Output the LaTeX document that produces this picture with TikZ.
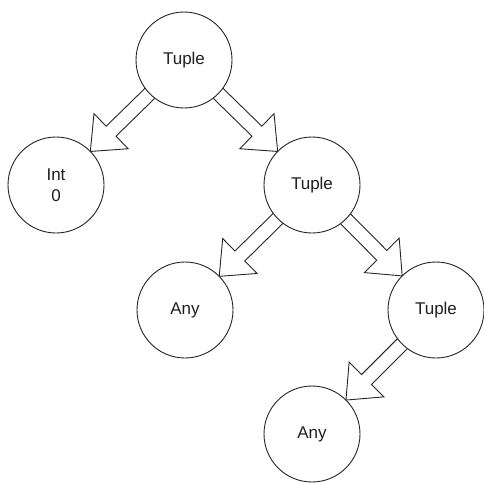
\documentclass[tikz,border=0pt]{standalone}
\usepackage{fontspec}
\setmainfont{Liberation Sans}
\usetikzlibrary{calc,backgrounds}

% hollow block arrow from circle #1 to circle #2
\newcommand\flexarrow[2]{%
  \path ($(#1.center)!40pt!(#2.center)$) coordinate (fs)
        ($(#2.center)!48pt!(#1.center)$) coordinate (ft)
        ($(ft)!29pt!(fs)$) coordinate (fb);
  \draw[blockarrow]
    ($(fs)!7pt!90:(ft)$) -- ($(fb)!7pt!90:(ft)$) -- ($(fb)!24.5pt!90:(ft)$)
    -- (ft)
    -- ($(fb)!24.5pt!-90:(ft)$) -- ($(fb)!7pt!-90:(ft)$) -- ($(fs)!7pt!-90:(ft)$)
    -- cycle;
}

\tikzset{
  treenode/.style={circle, draw=black!85, line width=0.9pt, fill=white,
    minimum size=96pt, inner sep=0pt, align=center, text=black!88,
    font=\fontsize{17}{21}\selectfont},
  blockarrow/.style={draw=black!85, line width=0.9pt, fill=white, line join=miter}
}

\begin{document}
\begin{tikzpicture}[x=1pt,y=-1pt]
  \useasboundingbox (0,0) rectangle (484,482);

  \node[treenode] (root)  at (184,60)  {Tuple};
  \node[treenode] (int)   at (56,185)  {Int\\0};
  \node[treenode] (tup)   at (312,185) {Tuple};
  \node[treenode] (anyA)  at (185,310) {Any};
  \node[treenode] (tupB)  at (436,310) {Tuple};
  \node[treenode] (anyB)  at (312,434) {Any};

  \begin{scope}[on background layer]
    \flexarrow{root}{int}
    \flexarrow{root}{tup}
    \flexarrow{tup}{anyA}
    \flexarrow{tup}{tupB}
    \flexarrow{tupB}{anyB}
  \end{scope}
\end{tikzpicture}
\end{document}
